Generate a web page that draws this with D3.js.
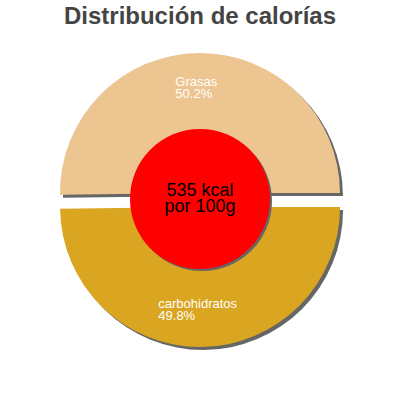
<!DOCTYPE html>
<html>
<head>
<meta charset="utf-8">
<script src="https://cdn.jsdelivr.net/npm/d3@7"></script>
<style>
    body { margin: 0; background: #fff; }
    svg { display: block; font-family: 'Liberation Sans', Arial, sans-serif; }
</style>
</head>
<body>
<div id="chart"></div>
<script>
const title = 'Distribución de calorías';
const categories = ['Grasas', 'carbohidratos'];
const percentages = [50.2, 49.8];
const sliceColors = ['#EDC591', '#DAA520'];
const centerLines = ['535 kcal', 'por 100g'];

let width = 400,
    height = 400,
    cx = 200,
    cy = 200,
    radius = 140,
    explode = 7,
    innerR = 70;

let svg = d3.select('#chart')
    .append('svg')
    .attr('width', width)
    .attr('height', height);

svg.append('text')
    .attr('x', width / 2)
    .attr('y', 24)
    .attr('text-anchor', 'middle')
    .style('font-size', '24px')
    .style('font-weight', 'bold')
    .style('fill', '#444')
    .text(title);

let data = categories.map((c, i) => ({name: c, value: percentages[i], color: sliceColors[i]}));

// first slice ends at 3 o'clock, starts a bit below 9 o'clock
let firstAngle = percentages[0] / d3.sum(percentages) * 2 * Math.PI;
let pie = d3.pie()
    .sort(null)
    .value(d => d.value)
    .startAngle(Math.PI / 2 - firstAngle)
    .endAngle(Math.PI / 2 - firstAngle + 2 * Math.PI);

let arc = d3.arc().innerRadius(0).outerRadius(radius);
let labelArc = d3.arc().innerRadius(radius * 0.74).outerRadius(radius * 0.74);

let g = svg.append('g')
    .attr('transform', 'translate(' + cx + ',' + cy + ')');

let slices = g.selectAll('g.slice')
    .data(pie(data))
    .enter()
    .append('g')
    .attr('class', 'slice')
    .attr('transform', function(d) {
        let a = (d.startAngle + d.endAngle) / 2;
        return 'translate(' + (Math.sin(a) * explode) + ',' + (-Math.cos(a) * explode) + ')';
    });

// shadows first
slices.append('path')
    .attr('d', arc)
    .attr('fill', '#666')
    .attr('transform', 'translate(3,3)');

slices.append('path')
    .attr('d', arc)
    .attr('fill', d => d.data.color);

slices.each(function(d) {
    let c = labelArc.centroid(d);
    let label = d3.select(this).append('text')
        .style('font-size', '13px')
        .style('fill', '#fff');
    let line1 = label.append('tspan').text(d.data.name);
    let w = line1.node().getComputedTextLength();
    let left = c[0] - w / 2 - 3;
    line1.attr('x', left).attr('y', c[1] - 3);
    label.append('tspan')
        .attr('x', left)
        .attr('y', c[1] + 9)
        .text(d3.format('.1f')(d.data.value) + '%');
});

// centre disc
g.append('circle')
    .attr('cx', 2)
    .attr('cy', 1)
    .attr('r', innerR)
    .attr('fill', '#666');
g.append('circle')
    .attr('cx', 0)
    .attr('cy', -1)
    .attr('r', innerR)
    .attr('fill', '#ff0000');

g.selectAll('text.center')
    .data(centerLines)
    .enter()
    .append('text')
    .attr('class', 'center')
    .attr('x', 0)
    .attr('y', (d, i) => -4 + i * 16)
    .attr('text-anchor', 'middle')
    .style('font-size', '18px')
    .style('fill', '#000')
    .text(d => d);
</script>
</body>
</html>
